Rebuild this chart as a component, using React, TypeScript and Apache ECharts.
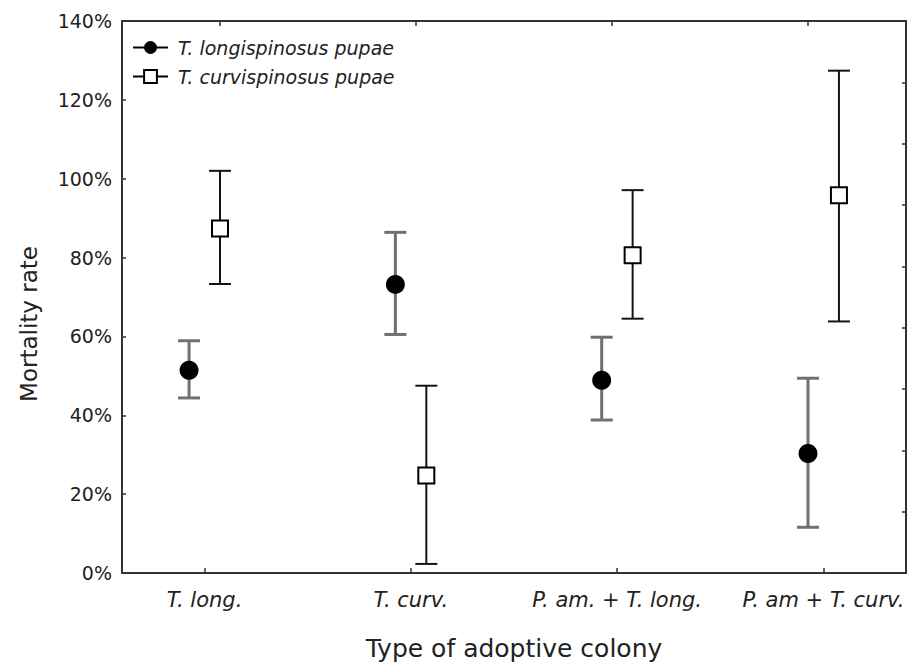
import React, { useEffect, useRef } from "react";
import * as echarts from "echarts";

const categories = ["T. long.", "T. curv.", "P. am. + T. long.", "P. am + T. curv."];
const seriesNames = ["T. longispinosus pupae", "T. curvispinosus pupae"];
const longMean = [51.4, 73.2, 48.9, 30.3];
const longLow = [44.4, 60.5, 38.8, 11.6];
const longHigh = [58.9, 86.4, 59.8, 49.4];
const curvMean = [87.4, 24.7, 80.6, 95.8];
const curvLow = [73.3, 2.3, 64.5, 63.8];
const curvHigh = [102.0, 47.5, 97.1, 127.4];
const categoryPositions = [0, 1, 2, 3];
const pointOffset = 0.075;

const FONT = "DejaVu Sans";
const TEXT = "#222";
const AXIS = "#333";

function errorBars(name: string, low: number[], high: number[], dx: number, color: string, width: number) {
  return {
    type: "custom",
    name,
    xAxisIndex: 0,
    yAxisIndex: 0,
    z: 2,
    silent: true,
    data: low.map((l, i) => [categoryPositions[i] + dx, l, high[i]]),
    encode: { x: 0, y: [1, 2] },
    renderItem: (_params: any, api: any) => {
      const x = api.value(0);
      const lo = api.coord([x, api.value(1)]);
      const hi = api.coord([x, api.value(2)]);
      const half = 11;
      const style = { stroke: color, lineWidth: width, fill: null };
      return {
        type: "group",
        children: [
          { type: "line", shape: { x1: lo[0], y1: lo[1], x2: hi[0], y2: hi[1] }, style },
          { type: "line", shape: { x1: lo[0] - half, y1: lo[1], x2: lo[0] + half, y2: lo[1] }, style },
          { type: "line", shape: { x1: hi[0] - half, y1: hi[1], x2: hi[0] + half, y2: hi[1] }, style },
        ],
      };
    },
  };
}

export default function App() {
  const ref = useRef<HTMLDivElement>(null);
  useEffect(() => {
    if (!ref.current) return;
    const chart = echarts.init(ref.current, undefined, { renderer: "svg" });
    const axisLine = { show: true, onZero: false, lineStyle: { color: AXIS, width: 2 } };
    chart.setOption({
      animation: false,
      backgroundColor: "#fff",
      textStyle: { fontFamily: FONT, color: TEXT },
      grid: { left: 122, right: 12, top: 21, bottom: 88, containLabel: false },
      legend: {
        data: seriesNames,
        orient: "vertical",
        left: 127,
        top: 33,
        itemWidth: 35,
        itemHeight: 16,
        itemGap: 10,
        textStyle: { fontFamily: FONT, fontStyle: "italic", fontSize: 19, color: TEXT, padding: [0, 0, 0, 5] },
        lineStyle: { width: 2, opacity: 1, color: "#000" },
        selectedMode: false,
      },
      xAxis: [
        {
          type: "value",
          position: "bottom",
          min: -0.4,
          max: 3.4,
          splitLine: { show: false },
          axisLine,
          axisTick: { show: true, inside: true, length: 5, customValues: categoryPositions, lineStyle: { color: AXIS, width: 1.5 } },
          axisLabel: {
            customValues: categoryPositions,
            formatter: (v: number) => categories[Math.round(v)] ?? "",
            fontFamily: FONT,
            fontStyle: "italic",
            fontSize: 21,
            color: TEXT,
            margin: 16,
          },
          name: "Type of adoptive colony",
          nameLocation: "middle",
          nameGap: 63,
          nameTextStyle: { fontFamily: FONT, fontSize: 25, color: TEXT },
        },
        {
          type: "category",
          position: "top",
          data: categories,
          boundaryGap: true,
          splitLine: { show: false },
          axisLine,
          axisTick: { show: true, inside: true, alignWithLabel: true, length: 5, lineStyle: { color: AXIS, width: 1.5 } },
          axisLabel: { show: false },
        },
      ],
      yAxis: [
        {
          type: "value",
          position: "left",
          min: 0,
          max: 140,
          interval: 20,
          splitLine: { show: false },
          axisLine,
          axisTick: { show: true, inside: true, length: 4, lineStyle: { color: AXIS, width: 1.5 } },
          axisLabel: { formatter: "{value}%", fontFamily: FONT, fontSize: 19, color: TEXT, margin: 10 },
          name: "Mortality rate",
          nameLocation: "middle",
          nameGap: 82,
          nameRotate: 90,
          nameTextStyle: { fontFamily: FONT, fontSize: 23, color: TEXT, padding: [0, 54, 0, 0] },
        },
        {
          type: "value",
          position: "right",
          min: 0,
          max: 9,
          interval: 1,
          splitLine: { show: false },
          axisLine,
          axisTick: { show: true, inside: true, length: 4, lineStyle: { color: AXIS, width: 1.5 } },
          axisLabel: { show: false },
        },
      ],
      series: [
        errorBars("long-err", longLow, longHigh, -pointOffset, "#707070", 3),
        errorBars("curv-err", curvLow, curvHigh, pointOffset, "#151515", 2),
        {
          type: "line",
          name: seriesNames[0],
          xAxisIndex: 0,
          yAxisIndex: 0,
          z: 3,
          data: longMean.map((v, i) => [categoryPositions[i] - pointOffset, v]),
          symbol: "circle",
          symbolSize: 19,
          showSymbol: true,
          lineStyle: { width: 0, opacity: 0 },
          itemStyle: { color: "#000", borderColor: "#000", borderWidth: 0 },
        },
        {
          type: "line",
          name: seriesNames[1],
          xAxisIndex: 0,
          yAxisIndex: 0,
          z: 3,
          data: curvMean.map((v, i) => [categoryPositions[i] + pointOffset, v]),
          symbol: "rect",
          symbolSize: 16,
          showSymbol: true,
          lineStyle: { width: 0, opacity: 0 },
          itemStyle: { color: "#fff", borderColor: "#000", borderWidth: 2 },
        },
      ],
    });
    return () => chart.dispose();
  }, []);
  return <div ref={ref} style={{ position: "fixed", left: 0, top: 0, width: 918, height: 666 }} />;
}
